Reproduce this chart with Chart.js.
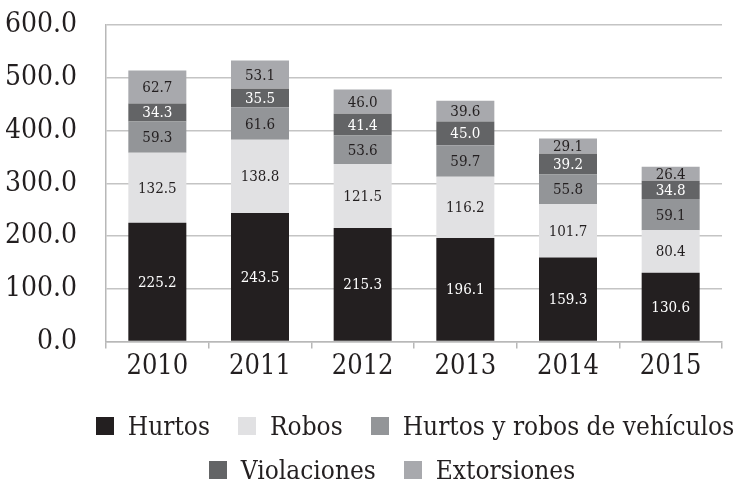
<!DOCTYPE html>
<html>
<head>
<meta charset="utf-8">
<script src="https://cdn.jsdelivr.net/npm/chart.js@4.4.0/dist/chart.umd.min.js"></script>
<style>
  body { margin: 0; background: #fff; }
  #wrap { position: relative; width: 740px; height: 482px; overflow: hidden; }
  #legend { position: absolute; left: 0; top: 404px; width: 740px; font-family: "DejaVu Serif Condensed", "DejaVu Serif", serif; font-size: 26px; color: #231f20; }
  .row { position: relative; display: flex; justify-content: center; align-items: center; height: 44px; white-space: nowrap; }
  .item { display: flex; align-items: center; flex-shrink: 0; margin: 0 14px; }
  .box { width: 18px; height: 18px; margin-right: 14px; }
</style>
</head>
<body>
<div id="wrap">
  <canvas id="chart" width="740" height="482"></canvas>
  <div id="legend"></div>
</div>
<script>
var years = ['2010', '2011', '2012', '2013', '2014', '2015'];
var hurtos = [225.2, 243.5, 215.3, 196.1, 159.3, 130.6];
var robos = [132.5, 138.8, 121.5, 116.2, 101.7, 80.4];
var vehiculos = [59.3, 61.6, 53.6, 59.7, 55.8, 59.1];
var violaciones = [34.3, 35.5, 41.4, 45.0, 39.2, 34.8];
var extorsiones = [62.7, 53.1, 46.0, 39.6, 29.1, 26.4];

var legendRows = [[0, 1, 2], [3, 4]];
var rowShift = [45, 22];
var fontFamily = '"DejaVu Serif Condensed", "DejaVu Serif", serif';

function makeSet(label, data, color, textColor) {
    return {
        label: label,
        data: data,
        backgroundColor: color,
        labelColor: textColor,
        barPercentage: 0.565,
        categoryPercentage: 1
    };
}

var datasets = [
    makeSet('Hurtos', hurtos, '#231f20', '#ffffff'),
    makeSet('Robos', robos, '#e1e1e3', '#231f20'),
    makeSet('Hurtos y robos de vehículos', vehiculos, '#939598', '#231f20'),
    makeSet('Violaciones', violaciones, '#636466', '#ffffff'),
    makeSet('Extorsiones', extorsiones, '#a8a9ad', '#231f20')
];

// writes the value in the middle of each segment
var valueLabels = {
    id: 'valueLabels',
    afterDatasetsDraw(chart) {
        var ctx = chart.ctx;
        ctx.save();
        ctx.font = '15px ' + fontFamily;
        ctx.textAlign = 'center';
        ctx.textBaseline = 'middle';
        chart.data.datasets.forEach((ds, i) => {
            chart.getDatasetMeta(i).data.forEach((bar, j) => {
                ctx.fillStyle = ds.labelColor;
                ctx.fillText(ds.data[j].toFixed(1), bar.x, (bar.y + bar.base) / 2 + 1);
            });
        });
        ctx.restore();
    }
};

var ctx = document.getElementById('chart').getContext('2d');
var myChart = new Chart(ctx, {
    type: 'bar',
    data: { labels: years, datasets: datasets },
    options: {
        responsive: false,
        animation: false,
        layout: { padding: { left: 6, right: 18, top: 25, bottom: 97 } },
        plugins: { legend: { display: false }, tooltip: { enabled: false } },
        scales: {
            x: {
                stacked: true,
                grid: { offset: true, drawOnChartArea: false, drawTicks: true, tickLength: 7, color: '#b8b8b8', lineWidth: 1.5 },
                border: { color: '#b8b8b8', width: 1.5 },
                ticks: { color: '#231f20', font: { family: fontFamily, size: 27 }, padding: 2 }
            },
            y: {
                stacked: true,
                min: 0,
                max: 600,
                grid: { color: '#c4c4c4', lineWidth: 1.5, drawTicks: false },
                border: { color: '#b8b8b8', width: 1.5 },
                afterFit: scale => {
                    scale.width = 100;
                    scale.paddingTop = 0;
                    scale.paddingBottom = 0;
                },
                ticks: {
                    stepSize: 100,
                    padding: 29,
                    color: '#231f20',
                    font: { family: fontFamily, size: 28 },
                    callback: v => v.toFixed(1)
                }
            }
        }
    },
    plugins: [valueLabels]
});

var legend = document.getElementById('legend');
legendRows.forEach((row, r) => {
    var div = document.createElement('div');
    div.className = 'row';
    div.style.left = rowShift[r] + 'px';
    row.forEach(i => {
        var item = document.createElement('div');
        item.className = 'item';
        var box = document.createElement('span');
        box.className = 'box';
        box.style.background = datasets[i].backgroundColor;
        item.appendChild(box);
        item.appendChild(document.createTextNode(datasets[i].label));
        div.appendChild(item);
    });
    legend.appendChild(div);
});
</script>
</body>
</html>
